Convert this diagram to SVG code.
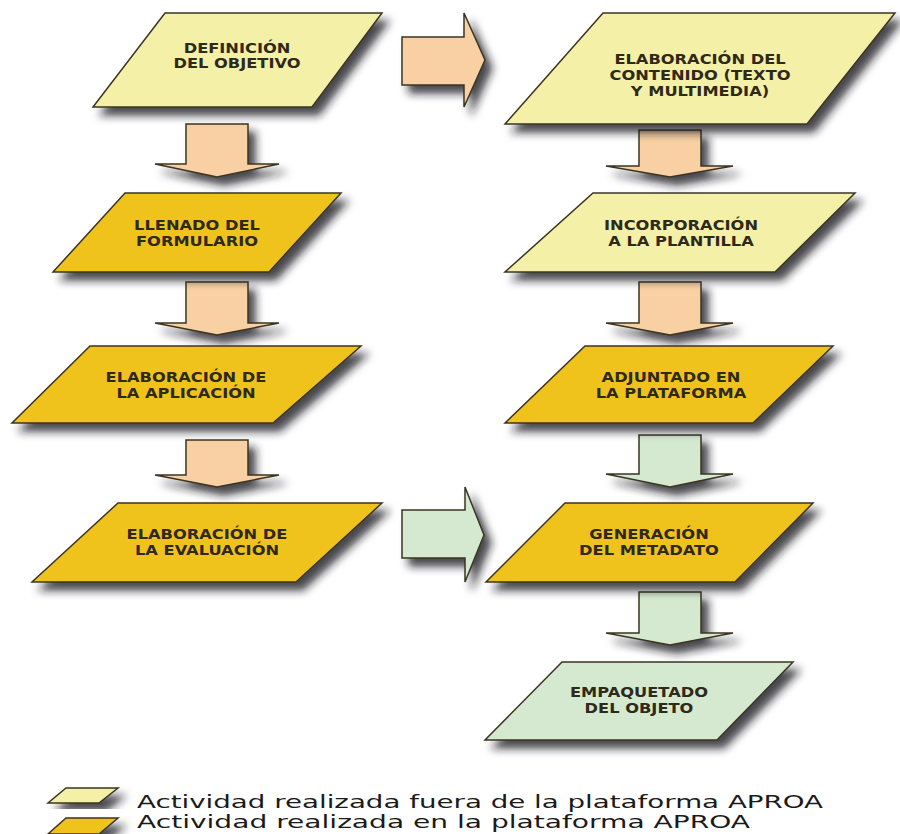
<svg xmlns="http://www.w3.org/2000/svg" width="900" height="834" viewBox="0 0 900 834">
  <defs>
    <filter id="shadow" x="-20%" y="-20%" width="150%" height="160%">
      <feDropShadow dx="7" dy="8" stdDeviation="4.5" flood-color="#1a1a24" flood-opacity="0.8"/>
    </filter>
  </defs>
  <style>
    .shape { stroke: #3a3420; stroke-width: 1.5; stroke-linejoin: miter; filter: url(#shadow); }
    .light { fill: #f4f0a8; }
    .dark { fill: #f0c31c; }
    .peach { fill: #f8d0a3; }
    .green { fill: #d4e9d0; }
    .lbl { font-family: "DejaVu Sans", Verdana, sans-serif; font-weight: bold; font-size: 14px; fill: #2e2918; text-anchor: middle; }
    .legend { font-family: "DejaVu Sans", Verdana, sans-serif; font-size: 17px; fill: #1a1a1a; }
  </style>
  <rect width="900" height="834" fill="#ffffff"/>

  <!-- connectors: block arrows -->
  <g id="connectors">
    <polygon class="shape peach" points="186,124 248,124 248,164 279,164 217,177 155,164 186,164"/>
    <polygon class="shape peach" points="186,282 248,282 248,323 279,323 217,335 155,323 186,323"/>
    <polygon class="shape peach" points="186,440 248,440 248,475 279,475 217,487 155,475 186,475"/>
    <polygon class="shape peach" points="402,37 464,37 464,13 485,60 464,107 464,85 402,85"/>
    <polygon class="shape peach" points="639,130 701,130 701,166 733,166 670,177 606,166 639,166"/>
    <polygon class="shape peach" points="639,282 701,282 701,323 733,323 670,335 606,323 639,323"/>
    <polygon class="shape green" points="639,435 701,435 701,474 733,474 670,487 606,474 639,474"/>
    <polygon class="shape green" points="402,510 465,510 465,487 484,535 465,582 465,558 402,558"/>
    <polygon class="shape green" points="639,592 701,592 701,633 733,633 670,645 606,633 639,633"/>
  </g>

  <!-- left column -->
  <g id="definicion">
    <polygon class="shape light" points="165,13 382,13 312,107 93,107"/>
    <text class="lbl" transform="translate(237 0) scale(1.16 1)"><tspan x="0" y="53">DEFINICIÓN</tspan><tspan x="0" y="68">DEL OBJETIVO</tspan></text>
  </g>
  <g id="llenado">
    <polygon class="shape dark" points="125,193 341,193 269,272 53,272"/>
    <text class="lbl" transform="translate(197 0) scale(1.16 1)"><tspan x="0" y="230">LLENADO DEL</tspan><tspan x="0" y="246">FORMULARIO</tspan></text>
  </g>
  <g id="aplicacion">
    <polygon class="shape dark" points="90,346 361,346 273,423 12,423"/>
    <text class="lbl" transform="translate(186 0) scale(1.16 1)"><tspan x="0" y="382">ELABORACIÓN DE</tspan><tspan x="0" y="398">LA APLICACIÓN</tspan></text>
  </g>
  <g id="evaluacion">
    <polygon class="shape dark" points="118,503 382,503 296,582 32,582"/>
    <text class="lbl" transform="translate(207 0) scale(1.16 1)"><tspan x="0" y="539">ELABORACIÓN DE</tspan><tspan x="0" y="555">LA EVALUACIÓN</tspan></text>
  </g>

  <!-- right column -->
  <g id="contenido">
    <polygon class="shape light" points="603,13 895,13 807,124 505,124"/>
    <text class="lbl" transform="translate(700 0) scale(1.16 1)"><tspan x="0" y="64">ELABORACIÓN DEL</tspan><tspan x="0" y="80">CONTENIDO (TEXTO</tspan><tspan x="0" y="96">Y MULTIMEDIA)</tspan></text>
  </g>
  <g id="incorporacion">
    <polygon class="shape light" points="593,193 855,193 775,272 505,272"/>
    <text class="lbl" transform="translate(681 0) scale(1.16 1)"><tspan x="0" y="230">INCORPORACIÓN</tspan><tspan x="0" y="246">A LA PLANTILLA</tspan></text>
  </g>
  <g id="adjuntado">
    <polygon class="shape dark" points="585,346 833,346 753,423 505,423"/>
    <text class="lbl" transform="translate(671 0) scale(1.16 1)"><tspan x="0" y="382">ADJUNTADO EN</tspan><tspan x="0" y="398">LA PLATAFORMA</tspan></text>
  </g>
  <g id="generacion">
    <polygon class="shape dark" points="565,503 813,503 735,582 486,582"/>
    <text class="lbl" transform="translate(649 0) scale(1.16 1)"><tspan x="0" y="539">GENERACIÓN</tspan><tspan x="0" y="555">DEL METADATO</tspan></text>
  </g>
  <g id="empaquetado">
    <polygon class="shape green" points="562,662 793,662 717,740 485,740"/>
    <text class="lbl" transform="translate(639 0) scale(1.16 1)"><tspan x="0" y="697">EMPAQUETADO</tspan><tspan x="0" y="713">DEL OBJETO</tspan></text>
  </g>

  <!-- legend -->
  <g id="legend">
    <polygon class="shape light" points="66,788 118,788 99,803 48,803"/>
    <polygon class="shape dark" points="66,818 118,818 99,834 48,834"/>
    <text class="legend" x="137" y="808" textLength="686" lengthAdjust="spacingAndGlyphs">Actividad realizada fuera de la plataforma APROA</text>
    <text class="legend" x="137" y="828" textLength="613" lengthAdjust="spacingAndGlyphs">Actividad realizada en la plataforma APROA</text>
  </g>
</svg>
